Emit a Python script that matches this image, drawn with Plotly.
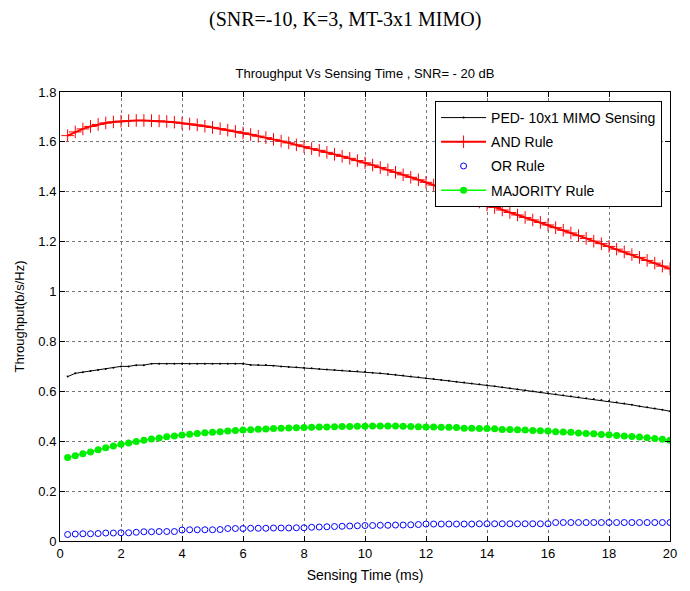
import plotly.graph_objects as go

sensing_time = [0.25, 0.5, 0.75, 1.0, 1.25, 1.5, 1.75, 2.0, 2.25, 2.5, 2.75, 3.0, 3.25, 3.5, 3.75, 4.0,
                4.25, 4.5, 4.75, 5.0, 5.25, 5.5, 5.75, 6.0, 6.25, 6.5, 6.75, 7.0, 7.25, 7.5, 7.75, 8.0,
                8.25, 8.5, 8.75, 9.0, 9.25, 9.5, 9.75, 10.0, 10.25, 10.5, 10.75, 11.0, 11.25, 11.5, 11.75, 12.0,
                12.25, 12.5, 12.75, 13.0, 13.25, 13.5, 13.75, 14.0, 14.25, 14.5, 14.75, 15.0, 15.25, 15.5, 15.75, 16.0,
                16.25, 16.5, 16.75, 17.0, 17.25, 17.5, 17.75, 18.0, 18.25, 18.5, 18.75, 19.0, 19.25, 19.5, 19.75, 20.0]

ped_mimo = [0.659, 0.672, 0.677, 0.682, 0.686, 0.690, 0.695, 0.700, 0.700, 0.705, 0.705, 0.711, 0.711, 0.711, 0.711, 0.711,
            0.711, 0.711, 0.711, 0.711, 0.711, 0.711, 0.711, 0.711, 0.706, 0.706, 0.706, 0.703, 0.700, 0.698, 0.697, 0.695,
            0.693, 0.690, 0.688, 0.686, 0.684, 0.682, 0.681, 0.679, 0.675, 0.672, 0.669, 0.666, 0.663, 0.659, 0.656, 0.652,
            0.649, 0.645, 0.642, 0.638, 0.635, 0.631, 0.628, 0.624, 0.620, 0.616, 0.612, 0.608, 0.604, 0.600, 0.596, 0.592,
            0.588, 0.584, 0.580, 0.576, 0.572, 0.569, 0.565, 0.561, 0.556, 0.551, 0.546, 0.540, 0.536, 0.531, 0.526, 0.520]

and_rule = [1.625, 1.640, 1.652, 1.662, 1.670, 1.676, 1.680, 1.683, 1.685, 1.686, 1.686, 1.685, 1.684, 1.682, 1.679, 1.675,
            1.672, 1.668, 1.663, 1.658, 1.653, 1.647, 1.642, 1.636, 1.630, 1.623, 1.617, 1.610, 1.603, 1.596, 1.588, 1.581,
            1.573, 1.566, 1.558, 1.550, 1.542, 1.534, 1.525, 1.516, 1.507, 1.497, 1.488, 1.478, 1.468, 1.458, 1.448, 1.438,
            1.427, 1.416, 1.404, 1.393, 1.382, 1.370, 1.359, 1.347, 1.337, 1.327, 1.317, 1.307, 1.297, 1.287, 1.277, 1.267,
            1.256, 1.246, 1.235, 1.224, 1.213, 1.202, 1.192, 1.181, 1.170, 1.159, 1.148, 1.137, 1.125, 1.114, 1.102, 1.091]

or_rule = [0.026, 0.028, 0.029, 0.029, 0.030, 0.032, 0.032, 0.033, 0.033, 0.035, 0.037, 0.037, 0.038, 0.038, 0.038, 0.044,
           0.045, 0.045, 0.045, 0.045, 0.046, 0.050, 0.050, 0.050, 0.051, 0.051, 0.051, 0.052, 0.052, 0.052, 0.053, 0.053,
           0.055, 0.056, 0.057, 0.058, 0.059, 0.060, 0.061, 0.062, 0.062, 0.063, 0.063, 0.064, 0.064, 0.065, 0.066, 0.068,
           0.068, 0.068, 0.068, 0.068, 0.068, 0.068, 0.069, 0.069, 0.069, 0.069, 0.069, 0.069, 0.069, 0.069, 0.069, 0.069,
           0.074, 0.074, 0.074, 0.074, 0.074, 0.074, 0.074, 0.074, 0.074, 0.074, 0.074, 0.074, 0.074, 0.074, 0.074, 0.074]

majority_rule = [0.335, 0.342, 0.350, 0.357, 0.366, 0.374, 0.381, 0.388, 0.393, 0.399, 0.404, 0.409, 0.413, 0.418, 0.421, 0.425,
                 0.428, 0.431, 0.434, 0.436, 0.438, 0.441, 0.443, 0.445, 0.446, 0.448, 0.449, 0.451, 0.452, 0.453, 0.454, 0.455,
                 0.456, 0.457, 0.457, 0.458, 0.459, 0.459, 0.460, 0.460, 0.461, 0.461, 0.461, 0.461, 0.460, 0.459, 0.458, 0.457,
                 0.457, 0.456, 0.456, 0.455, 0.452, 0.452, 0.451, 0.451, 0.450, 0.447, 0.447, 0.446, 0.445, 0.443, 0.442, 0.441,
                 0.438, 0.437, 0.436, 0.433, 0.431, 0.430, 0.427, 0.426, 0.423, 0.421, 0.419, 0.417, 0.414, 0.411, 0.408, 0.404]

x_ticks = [0, 2, 4, 6, 8, 10, 12, 14, 16, 18, 20]
y_ticks = [0, 0.2, 0.4, 0.6, 0.8, 1.0, 1.2, 1.4, 1.6, 1.8]

FONT = "Liberation Sans, Arial, sans-serif"

fig = go.Figure()
fig.add_trace(go.Scatter(x=sensing_time, y=ped_mimo, mode="lines+markers", name="PED- 10x1 MIMO Sensing",
                         legendgroup="a", line=dict(color="black", width=1), marker=dict(size=2, color="black")))
fig.add_trace(go.Scatter(x=sensing_time, y=and_rule, mode="lines+markers", name="AND Rule", legendgroup="b",
                         line=dict(color="red", width=2),
                         marker=dict(symbol="cross-thin-open", size=9, color="red", line=dict(width=1, color="red"))))
fig.add_trace(go.Scatter(x=sensing_time, y=or_rule, mode="markers", name="OR Rule", legendgroup="c",
                         marker=dict(symbol="circle-open", size=6, color="blue", line=dict(width=1, color="blue"))))
fig.add_trace(go.Scatter(x=sensing_time, y=majority_rule, mode="lines+markers", name="MAJORITY Rule", legendgroup="d",
                         line=dict(color="#00ff00", width=1.5), marker=dict(symbol="circle", size=7, color="#00ee00")))

axis_common = dict(showline=True, linecolor="black", linewidth=1, mirror="ticks", ticks="inside", ticklen=5,
                   tickcolor="black", showgrid=True, gridcolor="#777777", griddash="dot", gridwidth=1,
                   zeroline=False, tickfont=dict(family=FONT, size=13, color="black"))

fig.update_xaxes(range=[0, 20], tickvals=x_ticks, title=dict(text="Sensing Time (ms)", standoff=10,
                 font=dict(family=FONT, size=14, color="black")), **axis_common)
fig.update_yaxes(range=[0, 1.8], tickvals=y_ticks, title=dict(text="Throughput(b/s/Hz)", standoff=10,
                 font=dict(family=FONT, size=13, color="black")), **axis_common)

fig.update_layout(
    width=690, height=591,
    margin=dict(l=60, r=20, t=92, b=50),
    paper_bgcolor="white", plot_bgcolor="white",
    font=dict(family=FONT, color="black"),
    title=dict(text="Throughput Vs Sensing Time , SNR= - 20 dB", x=0.5, xanchor="center", xref="paper",
               y=1 - 73 / 591, yanchor="middle", font=dict(family=FONT, size=13, color="black")),
    legend=dict(x=0.987, y=0.98, xanchor="right", yanchor="top", bgcolor="white", bordercolor="black",
                borderwidth=1, font=dict(family=FONT, size=14, color="black"), tracegroupgap=3, itemwidth=45),
    showlegend=True,
    annotations=[dict(text="(SNR=-10, K=3, MT-3x1 MIMO)", x=(345 - 60) / 610, xref="paper", xanchor="center",
                      y=(541 - 20) / 449, yref="paper", yanchor="middle", showarrow=False,
                      font=dict(family="Liberation Serif, Times New Roman, serif", size=20, color="black"))],
)

fig.write_html("out.html")
